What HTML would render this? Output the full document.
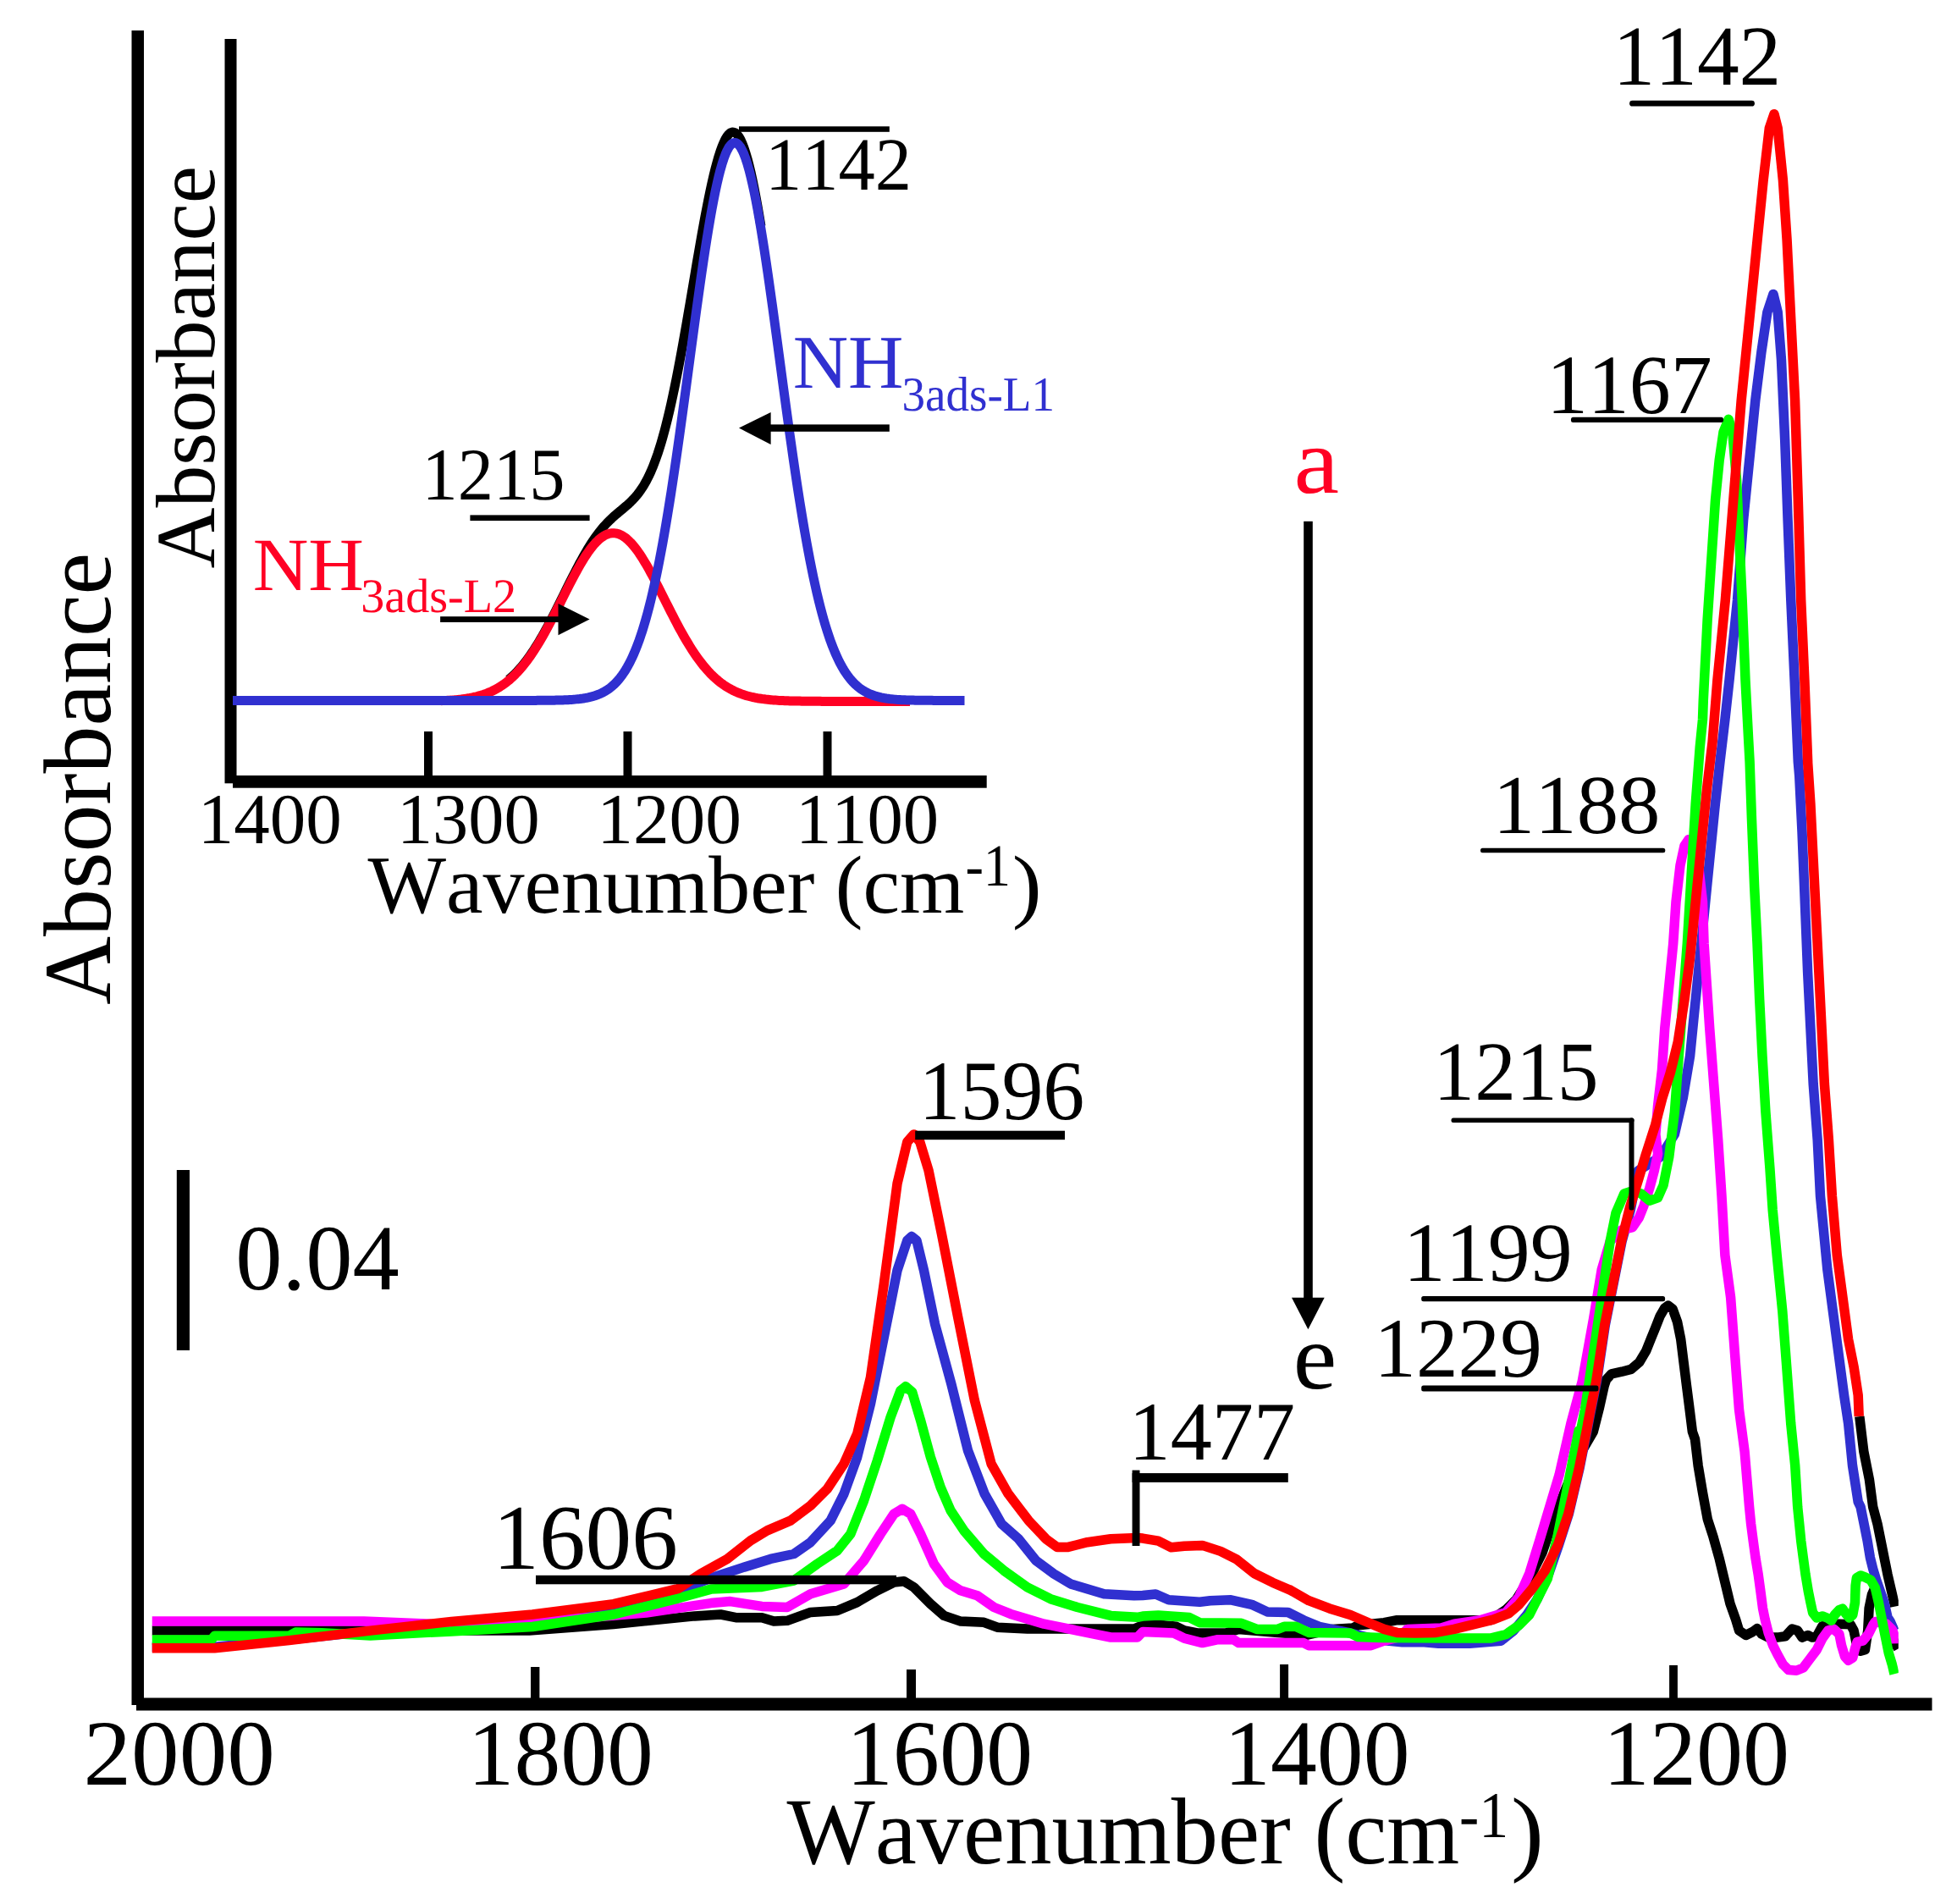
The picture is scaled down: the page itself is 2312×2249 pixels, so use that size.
<!DOCTYPE html>
<html lang="en"><head><meta charset="utf-8"><title>FTIR spectra</title>
<style>
html,body{margin:0;padding:0;background:#fff;}
body{width:2312px;height:2249px;overflow:hidden;}
svg{display:block;font-family:"Liberation Serif","Times New Roman",serif;font-kerning:none;font-variant-ligatures:none;text-rendering:geometricPrecision;}
</style></head><body>
<svg width="2312" height="2249" viewBox="0 0 2312 2249">
<rect x="0" y="0" width="2312" height="2249" fill="#ffffff"/>
<defs><clipPath id="cc"><rect x="179.5" y="0" width="2063.3" height="2005"/></clipPath></defs>
<g clip-path="url(#cc)">
<path d="M179.5,1926.1 L429.8,1926.1 L625.3,1926.1 L724.9,1918.5 L820.8,1908.9 L851.4,1907.0 L870.6,1910.8 L900.1,1910.8 L914.2,1915.1 L930.0,1914.3 L957.6,1904.4 L989.1,1902.5 L1012.7,1892.6 L1036.4,1878.8 L1056.1,1869.0 L1067.9,1867.8 L1079.7,1874.9 L1099.4,1894.6 L1115.2,1908.4 L1134.9,1915.1 L1162.4,1916.3 L1178.2,1922.2 L1213.7,1924.1 L1272.8,1924.1 L1339.7,1924.1 L1350.0,1919.8 L1359.2,1918.3 L1389.9,1921.3 L1399.1,1925.9 L1414.4,1929.0 L1448.1,1929.0 L1463.4,1924.4 L1521.7,1929.6 L1540.1,1932.1 L1573.8,1924.4 L1598.3,1922.9 L1604.5,1919.8 L1635.1,1916.7 L1650.5,1913.7 L1760.8,1913.7 L1779.2,1901.4 L1791.5,1889.1 L1806.8,1864.6 L1822.1,1834.0 L1834.4,1797.2 L1846.7,1766.5 L1865.1,1720.5 L1882.3,1691.2 L1889.2,1663.9 L1895.3,1636.6 L1897.6,1629.7 L1903.8,1622.9 L1916.1,1620.2 L1927.0,1617.4 L1936.6,1609.2 L1944.7,1595.6 L1950.2,1581.9 L1955.7,1568.3 L1961.1,1554.6 L1966.6,1545.1 L1970.7,1542.1 L1976.2,1546.4 L1981.6,1561.5 L1985.7,1581.9 L1989.1,1609.2 L1992.5,1636.6 L1996.0,1663.9 L1999.4,1691.2 L2002.5,1700.0 L2006.2,1731.5 L2011.5,1763.0 L2017.3,1794.5 L2024.1,1815.6 L2031.4,1841.8 L2037.7,1868.1 L2044.0,1894.3 L2050.6,1912.9 L2054.6,1926.1 L2062.6,1931.5 L2070.6,1927.5 L2075.9,1923.5 L2081.2,1930.1 L2089.2,1934.1 L2099.8,1934.1 L2109.1,1932.8 L2117.1,1924.1 L2123.7,1926.1 L2129.0,1934.1 L2135.7,1931.5 L2141.0,1934.1 L2146.3,1932.8 L2152.9,1920.8 L2159.6,1918.8 L2172.9,1918.2 L2186.1,1918.8 L2190.1,1926.1 L2192.8,1939.4 L2198.1,1950.1 L2203.4,1948.7 L2206.7,1926.1 L2208.1,1899.6 L2211.4,1883.6 L2216.7,1871.7 L2223.3,1886.3 L2230.0,1912.9 L2236.6,1936.8 L2242.6,1947.4" fill="none" stroke="#000000" stroke-width="11.5" stroke-linejoin="round" stroke-linecap="butt"/>
<path d="M2196.8,1673.1 L2201.8,1714.4 L2208.4,1747.5 L2212.7,1780.0 L2218.0,1799.9 L2222.0,1819.9 L2226.0,1839.8 L2230.0,1859.7 L2234.6,1879.6 L2238.0,1894.3 L2238.6,1897.6" fill="none" stroke="#000000" stroke-width="11.5" stroke-linejoin="round" stroke-linecap="butt"/>
<path d="M179.5,1945.3 L253.5,1945.3 L341.6,1936.9 L437.5,1926.9 L533.3,1917.7 L629.1,1910.0 L724.9,1897.4 L801.6,1879.4 L839.9,1864.0 L878.2,1851.4 L878.8,1851.2 L910.3,1841.4 L937.9,1835.5 L957.6,1821.7 L981.2,1796.1 L997.0,1764.6 L1012.7,1721.2 L1028.5,1658.2 L1044.3,1579.4 L1060.0,1500.6 L1071.8,1465.2 L1077.0,1460.4 L1082.9,1465.2 L1091.5,1500.6 L1104.5,1563.7 L1123.8,1634.6 L1143.5,1713.4 L1163.2,1764.6 L1183.3,1800.0 L1203.4,1817.8 L1223.9,1843.4 L1245.2,1859.1 L1264.9,1870.9 L1304.3,1882.8 L1339.7,1884.7 L1350.0,1884.5 L1365.3,1883.0 L1380.7,1889.8 L1417.4,1892.2 L1429.7,1890.7 L1454.2,1889.8 L1478.8,1895.3 L1497.2,1903.9 L1521.7,1904.5 L1540.1,1913.7 L1558.5,1921.3 L1570.7,1923.8 L1595.3,1929.0 L1625.9,1936.7 L1656.6,1939.7 L1682.6,1939.7 L1699.5,1941.3 L1736.3,1941.3 L1773.1,1938.2 L1788.4,1925.9 L1803.8,1907.5 L1816.0,1889.1 L1829.8,1858.5 L1841.5,1824.8 L1853.4,1788.0 L1865.7,1735.8 L1874.9,1689.9 L1882.5,1650.0 L1876.4,1681.3 L1886.4,1631.7 L1896.3,1565.5 L1906.2,1515.8 L1916.1,1466.2 L1926.1,1429.8 L1935.3,1382.9 L1961.8,1366.3 L1978.4,1339.8 L1988.3,1296.8 L1996.6,1247.2 L2001.5,1197.5 L2006.5,1147.9 L2011.5,1098.2 L2016.4,1048.6 L2021.4,998.9 L2026.4,949.3 L2032.0,899.6 L2037.9,850.0 L2043.0,803.5 L2052.5,709.0 L2059.6,614.5 L2066.7,543.6 L2073.8,472.7 L2080.9,415.9 L2087.9,368.7 L2095.0,347.4 L2100.2,368.7 L2104.5,425.4 L2108.7,519.9 L2112.1,614.5 L2115.8,709.0 L2120.1,803.5 L2124.3,899.9 L2125.7,916.2 L2129.0,982.4 L2132.3,1065.1 L2135.6,1147.9 L2138.9,1214.1 L2142.2,1280.3 L2147.2,1346.5 L2150.5,1412.7 L2158.8,1499.3 L2165.4,1548.9 L2172.0,1598.6 L2178.6,1648.2 L2183.6,1681.3 L2188.5,1731.0 L2195.2,1774.0 L2198.1,1780.0 L2202.1,1799.9 L2206.1,1819.9 L2209.4,1839.8 L2212.7,1853.1 L2216.7,1866.4 L2226.0,1892.9 L2230.0,1910.2 L2233.3,1915.5 L2238.0,1926.1" fill="none" stroke="#3030d0" stroke-width="11.5" stroke-linejoin="round" stroke-linecap="butt"/>
<path d="M179.5,1915.0 L429.8,1915.0 L533.3,1919.2 L648.3,1914.6 L763.3,1905.1 L839.9,1893.6 L862.9,1891.6 L900.1,1897.4 L930.0,1898.5 L957.6,1882.8 L997.0,1870.9 L1020.6,1843.4 L1040.3,1811.9 L1056.1,1788.2 L1065.9,1782.3 L1075.8,1788.2 L1087.6,1811.9 L1103.4,1847.3 L1119.1,1869.0 L1134.9,1878.8 L1154.6,1884.7 L1174.3,1898.5 L1194.0,1906.4 L1233.4,1918.2 L1272.8,1926.1 L1312.2,1934.0 L1343.7,1934.0 L1350.0,1927.5 L1386.8,1929.0 L1399.1,1935.1 L1420.5,1940.6 L1438.9,1936.7 L1457.3,1936.7 L1463.4,1940.6 L1540.1,1940.6 L1546.2,1943.7 L1619.8,1943.7 L1635.1,1938.2 L1653.5,1933.6 L1662.7,1924.4 L1702.6,1922.9 L1717.9,1918.3 L1748.6,1913.7 L1779.2,1904.5 L1794.6,1886.1 L1806.8,1858.5 L1819.1,1818.6 L1828.3,1788.0 L1842.1,1742.0 L1855.9,1681.3 L1869.2,1631.7 L1882.4,1558.9 L1892.3,1499.3 L1902.2,1466.2 L1915.5,1453.0 L1928.7,1449.6 L1936.5,1438.0 L1941.9,1424.3 L1948.7,1403.8 L1954.2,1383.3 L1958.6,1362.9 L1955.9,1339.8 L1958.5,1306.7 L1963.5,1263.7 L1966.8,1214.1 L1971.8,1164.4 L1976.7,1114.8 L1980.0,1065.1 L1985.0,1022.1 L1990.0,998.9 L1994.9,991.7 L2001.5,998.9 L2006.5,1022.1 L2011.5,1065.1 L2013.1,1114.8 L2016.4,1164.4 L2019.7,1214.1 L2024.7,1280.3 L2029.7,1346.5 L2034.0,1412.7 L2037.9,1482.7 L2044.6,1532.4 L2049.5,1598.6 L2054.5,1664.8 L2061.1,1714.4 L2066.6,1780.0 L2068.6,1799.9 L2071.2,1819.9 L2073.9,1839.8 L2077.2,1859.7 L2079.9,1879.6 L2082.5,1899.6 L2085.2,1912.9 L2089.2,1928.8 L2094.5,1943.4 L2099.8,1954.0 L2106.4,1966.0 L2113.1,1972.6 L2122.4,1973.3 L2130.3,1970.0 L2138.3,1959.4 L2146.3,1948.7 L2152.9,1935.4 L2159.6,1926.1 L2166.2,1924.1 L2172.9,1930.1 L2175.5,1943.4 L2179.5,1956.7 L2183.5,1961.3 L2188.8,1958.0 L2191.5,1947.4 L2194.1,1939.4 L2200.8,1938.1 L2207.4,1930.1 L2212.7,1919.5 L2215.4,1915.5 L2228.7,1918.2 L2235.3,1924.8 L2238.6,1932.8 L2238.9,1941.4" fill="none" stroke="#ff00ff" stroke-width="11.5" stroke-linejoin="round" stroke-linecap="butt"/>
<path d="M179.5,1936.9 L249.7,1936.9 L253.5,1932.3 L341.6,1932.3 L349.3,1928.1 L380.0,1928.8 L437.5,1931.9 L533.3,1926.9 L629.1,1921.5 L724.9,1907.0 L801.6,1887.8 L839.9,1877.1 L900.1,1874.4 L937.9,1867.0 L965.5,1847.3 L989.1,1831.6 L1004.9,1811.9 L1020.6,1772.5 L1036.4,1725.2 L1052.1,1674.0 L1064.0,1642.4 L1069.9,1637.7 L1077.7,1644.4 L1087.6,1677.9 L1099.4,1721.2 L1111.2,1756.7 L1123.1,1784.3 L1138.8,1807.9 L1162.4,1835.5 L1186.1,1855.2 L1213.7,1874.9 L1241.2,1888.7 L1272.8,1898.5 L1312.2,1908.4 L1343.7,1910.3 L1350.0,1909.1 L1368.4,1908.1 L1405.2,1910.6 L1417.4,1916.7 L1466.5,1917.3 L1484.9,1924.4 L1509.4,1924.4 L1517.1,1921.3 L1530.9,1921.3 L1546.2,1928.4 L1595.3,1929.0 L1604.5,1933.6 L1632.1,1934.5 L1711.8,1935.1 L1760.8,1935.1 L1779.2,1930.5 L1794.6,1919.8 L1806.8,1907.5 L1819.1,1883.0 L1828.3,1864.6 L1840.5,1812.5 L1852.8,1751.2 L1865.1,1689.9 L1862.5,1714.4 L1872.5,1664.8 L1882.4,1598.6 L1892.3,1532.4 L1902.2,1466.2 L1908.9,1433.1 L1918.8,1409.9 L1928.7,1406.6 L1938.7,1409.9 L1948.6,1418.2 L1958.5,1414.9 L1965.1,1400.0 L1971.8,1366.3 L1978.4,1313.4 L1983.3,1247.2 L1988.3,1181.0 L1993.3,1114.8 L1998.2,1032.0 L2003.2,949.3 L2008.2,883.1 L2011.5,850.0 L2012.3,827.1 L2017.1,732.6 L2021.8,661.7 L2026.5,590.8 L2031.2,543.6 L2036.0,510.5 L2042.1,495.3 L2046.8,510.5 L2051.6,567.2 L2054.9,638.1 L2058.2,709.0 L2062.0,803.5 L2065.7,874.4 L2067.1,899.6 L2069.4,965.8 L2072.7,1048.6 L2076.0,1114.8 L2078.7,1181.0 L2082.0,1247.2 L2085.9,1313.4 L2090.9,1379.6 L2094.2,1429.2 L2099.2,1482.7 L2105.8,1548.9 L2110.8,1615.1 L2115.7,1681.3 L2120.7,1731.0 L2123.7,1780.0 L2125.7,1799.9 L2127.7,1819.9 L2130.3,1839.8 L2133.0,1859.7 L2136.3,1879.6 L2139.0,1892.9 L2141.6,1904.9 L2146.3,1910.9 L2152.9,1908.9 L2159.6,1911.5 L2163.6,1914.2 L2167.5,1907.5 L2172.9,1901.6 L2176.8,1900.2 L2180.8,1906.2 L2184.8,1910.9 L2188.8,1907.5 L2191.5,1892.9 L2192.1,1873.0 L2193.4,1863.7 L2198.1,1861.0 L2203.4,1863.0 L2210.1,1866.4 L2215.4,1875.7 L2219.4,1892.9 L2223.3,1912.9 L2227.3,1932.8 L2231.3,1952.7 L2235.3,1966.0 L2238.0,1977.3" fill="none" stroke="#00ff00" stroke-width="11.5" stroke-linejoin="round" stroke-linecap="butt"/>
<path d="M179.5,1946.8 L253.5,1946.8 L341.6,1937.6 L437.5,1926.1 L533.3,1915.4 L629.1,1907.0 L724.9,1894.7 L801.6,1876.3 L827.6,1859.1 L859.1,1841.4 L886.7,1819.7 L906.4,1807.9 L933.9,1796.1 L957.6,1778.4 L977.3,1758.7 L997.0,1729.1 L1012.7,1693.7 L1028.5,1626.7 L1044.3,1516.4 L1060.0,1398.2 L1071.8,1348.9 L1079.7,1339.9 L1086.8,1348.9 L1097.0,1382.4 L1112.4,1457.3 L1131.7,1555.8 L1151.4,1654.3 L1171.1,1729.1 L1191.2,1764.6 L1215.2,1796.1 L1235.7,1817.8 L1249.1,1827.6 L1260.9,1827.6 L1284.6,1821.7 L1312.2,1817.8 L1343.7,1816.6 L1350.0,1817.1 L1368.4,1820.2 L1383.7,1827.8 L1399.1,1826.3 L1420.5,1825.4 L1442.0,1832.4 L1460.4,1841.6 L1481.8,1858.5 L1503.3,1869.2 L1524.8,1878.4 L1546.2,1890.7 L1570.7,1899.9 L1595.3,1907.5 L1616.7,1916.7 L1635.1,1924.4 L1650.5,1928.4 L1671.9,1929.0 L1696.4,1928.4 L1717.9,1924.4 L1742.4,1918.3 L1763.9,1913.1 L1782.3,1906.0 L1794.6,1895.3 L1809.9,1876.9 L1825.2,1855.4 L1840.5,1824.8 L1852.8,1788.0 L1865.1,1735.8 L1874.3,1689.9 L1881.9,1650.0 L1875.8,1681.3 L1885.7,1631.7 L1895.6,1565.5 L1905.6,1515.8 L1915.5,1466.2 L1925.4,1426.5 L1936.5,1390.2 L1944.6,1362.9 L1955.6,1328.7 L1963.8,1297.3 L1973.3,1267.3 L1982.3,1230.6 L1990.0,1181.0 L1996.6,1131.3 L2003.2,1065.1 L2009.8,998.9 L2016.4,932.7 L2023.1,876.5 L2028.9,803.5 L2038.3,709.0 L2047.8,590.8 L2057.2,472.7 L2066.7,378.1 L2076.1,283.6 L2083.2,212.7 L2090.3,151.3 L2096.0,134.7 L2100.2,151.3 L2106.4,212.7 L2111.1,283.6 L2115.8,378.1 L2120.6,472.7 L2124.3,590.8 L2127.7,709.0 L2131.9,803.5 L2135.7,899.9 L2135.6,899.6 L2138.9,949.3 L2142.2,1015.5 L2145.5,1081.7 L2148.8,1147.9 L2152.1,1214.1 L2155.4,1280.3 L2160.4,1346.5 L2164.4,1412.7 L2170.3,1482.7 L2177.0,1532.4 L2183.6,1582.0 L2190.2,1615.1 L2195.2,1648.2 L2196.2,1673.1" fill="none" stroke="#ff0000" stroke-width="11.5" stroke-linejoin="round" stroke-linecap="butt"/>
</g>
<rect x="155.50" y="36.00" width="14.50" height="1978.00" fill="#000"/>
<rect x="161.00" y="2005.50" width="2121.50" height="15.00" fill="#000"/>
<rect x="627.00" y="1969.00" width="10.40" height="37.00" fill="#000"/>
<rect x="1071.00" y="1972.00" width="11.00" height="34.00" fill="#000"/>
<rect x="1512.10" y="1966.00" width="10.00" height="40.00" fill="#000"/>
<rect x="1972.10" y="1967.00" width="9.80" height="39.00" fill="#000"/>
<text transform="translate(98.51,2108.30) scale(1.0272,1)" font-size="110.22" fill="#000">2000</text>
<text transform="translate(552.61,2108.30) scale(0.9948,1)" font-size="110.22" fill="#000">1800</text>
<text transform="translate(999.65,2108.30) scale(1.0006,1)" font-size="110.22" fill="#000">1600</text>
<text transform="translate(1446.10,2108.30) scale(0.9953,1)" font-size="110.22" fill="#000">1400</text>
<text transform="translate(1893.87,2108.30) scale(0.9987,1)" font-size="110.22" fill="#000">1200</text>
<rect x="208.80" y="1382.00" width="15.20" height="213.00" fill="#000"/>
<text transform="translate(278.36,1523.35) scale(1.0020,1)" font-size="110.29" fill="#000">0.04</text>
<text transform="translate(582.23,1852.71) scale(1.0004,1)" font-size="109.33" fill="#000">1606</text>
<rect x="633.00" y="1860.80" width="426.00" height="10.50" fill="#000"/>
<text transform="translate(1085.43,1321.90) scale(0.9803,1)" font-size="99.93" fill="#000">1596</text>
<rect x="1081.20" y="1335.70" width="176.80" height="10.50" fill="#000"/>
<text transform="translate(1333.61,1724.00) scale(0.9958,1)" font-size="98.64" fill="#000">1477</text>
<rect x="1337.60" y="1740.10" width="184.20" height="10.80" fill="#000"/>
<rect x="1337.60" y="1736.60" width="8.90" height="89.40" fill="#000"/>
<text transform="translate(1905.39,99.60) scale(0.9867,1)" font-size="100.83" fill="#000">1142</text>
<path d="M1928.5,122.2 L2069.5,122.2" stroke="#000" stroke-width="6.8" stroke-linecap="round"/>
<text transform="translate(1826.93,487.71) scale(0.9841,1)" font-size="99.48" fill="#000">1167</text>
<rect x="1856.00" y="492.80" width="180.00" height="6.20" rx="2.5" ry="2.5" fill="#000"/>
<text transform="translate(1763.86,983.61) scale(0.9981,1)" font-size="98.96" fill="#000">1188</text>
<rect x="1749.00" y="1001.70" width="218.30" height="5.60" rx="2.5" ry="2.5" fill="#000"/>
<text transform="translate(1693.36,1299.41) scale(0.9823,1)" font-size="99.33" fill="#000">1215</text>
<rect x="1714.50" y="1320.60" width="216.00" height="5.50" rx="2.5" ry="2.5" fill="#000"/>
<rect x="1924.50" y="1320.60" width="6.00" height="108.90" rx="2.5" ry="2.5" fill="#000"/>
<text transform="translate(1657.86,1512.71) scale(1.0044,1)" font-size="99.48" fill="#000">1199</text>
<rect x="1679.20" y="1530.90" width="287.90" height="6.40" rx="2.5" ry="2.5" fill="#000"/>
<text transform="translate(1623.21,1625.70) scale(0.9941,1)" font-size="99.93" fill="#000">1229</text>
<rect x="1679.20" y="1636.40" width="209.20" height="7.20" rx="2.5" ry="2.5" fill="#000"/>
<text transform="translate(1528.48,582.09) scale(1.0832,1)" font-size="111.25" fill="#ff0024">a</text>
<text transform="translate(1527.86,1639.90) scale(1.0521,1)" font-size="110.21" fill="#000">e</text>
<rect x="1540.20" y="615.80" width="10.60" height="924.20" fill="#000"/>
<polygon points="1526,1532.7 1564.7,1532.7 1545.4,1570.2" fill="#000"/>
<rect x="265.50" y="46.00" width="14.00" height="879.30" fill="#000"/>
<rect x="275.00" y="916.00" width="890.70" height="14.70" fill="#000"/>
<path d="M601.0,802.7 L603.0,800.9 L605.0,799.1 L607.0,797.3 L609.0,795.3 L611.0,793.2 L613.0,791.0 L615.0,788.8 L617.0,786.4 L619.0,783.9 L621.0,781.4 L623.0,778.7 L625.0,776.0 L627.0,773.1 L629.0,770.2 L631.0,767.2 L633.0,764.0 L635.0,760.8 L637.0,757.5 L639.0,754.1 L641.0,750.7 L643.0,747.1 L645.0,743.5 L647.0,739.8 L649.0,736.0 L651.0,732.2 L653.0,728.4 L655.0,724.4 L657.0,720.5 L659.0,716.5 L661.0,712.5 L663.0,708.4 L665.0,704.4 L667.0,700.3 L669.0,696.3 L671.0,692.3 L673.0,688.2 L675.0,684.2 L677.0,680.3 L679.0,676.4 L681.0,672.5 L683.0,668.7 L685.0,664.9 L687.0,661.3 L689.0,657.7 L691.0,654.2 L693.0,650.8 L695.0,647.4 L697.0,644.2 L699.0,641.1 L701.0,638.1 L703.0,635.2 L705.0,632.4 L707.0,629.7 L709.0,627.2 L711.0,624.7 L713.0,622.3 L715.0,620.1 L717.0,617.9 L719.0,615.9 L721.0,613.9 L723.0,612.0 L725.0,610.2 L727.0,608.4 L729.0,606.7 L731.0,605.0 L733.0,603.4 L735.0,601.7 L737.0,600.0 L739.0,598.3 L741.0,596.6 L743.0,594.8 L745.0,592.9 L747.0,590.9 L749.0,588.8 L751.0,586.6 L753.0,584.2 L755.0,581.6 L757.0,578.8 L759.0,575.8 L761.0,572.6 L763.0,569.1 L765.0,565.3 L767.0,561.3 L769.0,556.9 L771.0,552.2 L773.0,547.1 L775.0,541.7 L777.0,536.0 L779.0,529.8 L781.0,523.3 L783.0,516.4 L785.0,509.1 L787.0,501.4 L789.0,493.4 L791.0,484.9 L793.0,476.1 L795.0,466.9 L797.0,457.4 L799.0,447.5 L801.0,437.3 L803.0,426.8 L805.0,416.0 L807.0,405.0 L809.0,393.8 L811.0,382.4 L813.0,370.8 L815.0,359.1 L817.0,347.4 L819.0,335.6 L821.0,323.8 L823.0,312.0 L825.0,300.4 L827.0,288.9 L829.0,277.5 L831.0,266.4 L833.0,255.6 L835.0,245.2 L837.0,235.1 L839.0,225.4 L841.0,216.2 L843.0,207.5 L845.0,199.3 L847.0,191.8 L849.0,184.9 L851.0,178.6 L853.0,173.1 L855.0,168.3 L857.0,164.2 L859.0,161.0 L861.0,158.5 L863.0,156.9 L865.0,156.1 L867.0,156.2 L869.0,157.1 L871.0,158.9 L873.0,161.6 L875.0,165.1 L877.0,169.5 L879.0,174.7 L881.0,180.7 L883.0,187.5 L885.0,195.1 L887.0,203.4 L889.0,212.4 L891.0,222.2 L893.0,232.5 L895.0,243.5 L897.0,255.1 L899.0,267.2" fill="none" stroke="#000000" stroke-width="11" stroke-linejoin="round" stroke-linecap="butt"/>
<path d="M521.0,827.7 L523.0,827.6 L525.0,827.5 L527.0,827.4 L529.0,827.3 L531.0,827.2 L533.0,827.1 L535.0,826.9 L537.0,826.8 L539.0,826.6 L541.0,826.4 L543.0,826.2 L545.0,826.0 L547.0,825.7 L549.0,825.4 L551.0,825.1 L553.0,824.8 L555.0,824.5 L557.0,824.1 L559.0,823.7 L561.0,823.2 L563.0,822.8 L565.0,822.2 L567.0,821.7 L569.0,821.1 L571.0,820.5 L573.0,819.8 L575.0,819.0 L577.0,818.2 L579.0,817.4 L581.0,816.5 L583.0,815.5 L585.0,814.5 L587.0,813.4 L589.0,812.2 L591.0,811.0 L593.0,809.7 L595.0,808.3 L597.0,806.8 L599.0,805.3 L601.0,803.7 L603.0,802.0 L605.0,800.2 L607.0,798.3 L609.0,796.3 L611.0,794.2 L613.0,792.0 L615.0,789.8 L617.0,787.4 L619.0,785.0 L621.0,782.4 L623.0,779.8 L625.0,777.0 L627.0,774.2 L629.0,771.2 L631.0,768.2 L633.0,765.1 L635.0,761.9 L637.0,758.6 L639.0,755.2 L641.0,751.7 L643.0,748.2 L645.0,744.6 L647.0,740.9 L649.0,737.2 L651.0,733.4 L653.0,729.6 L655.0,725.7 L657.0,721.8 L659.0,717.8 L661.0,713.9 L663.0,709.9 L665.0,705.9 L667.0,701.9 L669.0,697.9 L671.0,694.0 L673.0,690.1 L675.0,686.2 L677.0,682.4 L679.0,678.6 L681.0,675.0 L683.0,671.4 L685.0,667.8 L687.0,664.4 L689.0,661.1 L691.0,657.9 L693.0,654.9 L695.0,652.0 L697.0,649.2 L699.0,646.6 L701.0,644.1 L703.0,641.9 L705.0,639.8 L707.0,637.8 L709.0,636.1 L711.0,634.6 L713.0,633.3 L715.0,632.1 L717.0,631.2 L719.0,630.5 L721.0,630.0 L723.0,629.8 L725.0,629.7 L727.0,629.9 L729.0,630.2 L731.0,630.8 L733.0,631.7 L735.0,632.7 L737.0,633.9 L739.0,635.3 L741.0,637.0 L743.0,638.8 L745.0,640.8 L747.0,643.0 L749.0,645.3 L751.0,647.9 L753.0,650.6 L755.0,653.4 L757.0,656.4 L759.0,659.5 L761.0,662.8 L763.0,666.1 L765.0,669.6 L767.0,673.1 L769.0,676.8 L771.0,680.5 L773.0,684.3 L775.0,688.2 L777.0,692.0 L779.0,696.0 L781.0,699.9 L783.0,703.9 L785.0,707.9 L787.0,711.9 L789.0,715.8 L791.0,719.8 L793.0,723.7 L795.0,727.6 L797.0,731.5 L799.0,735.3 L801.0,739.1 L803.0,742.8 L805.0,746.4 L807.0,750.0 L809.0,753.5 L811.0,756.9 L813.0,760.2 L815.0,763.5 L817.0,766.7 L819.0,769.7 L821.0,772.7 L823.0,775.6 L825.0,778.4 L827.0,781.1 L829.0,783.7 L831.0,786.2 L833.0,788.6 L835.0,790.9 L837.0,793.1 L839.0,795.3 L841.0,797.3 L843.0,799.2 L845.0,801.1 L847.0,802.8 L849.0,804.5 L851.0,806.1 L853.0,807.6 L855.0,809.0 L857.0,810.3 L859.0,811.6 L861.0,812.8 L863.0,813.9 L865.0,815.0 L867.0,816.0 L869.0,816.9 L871.0,817.8 L873.0,818.6 L875.0,819.4 L877.0,820.1 L879.0,820.8 L881.0,821.4 L883.0,822.0 L885.0,822.5 L887.0,823.0 L889.0,823.5 L891.0,823.9 L893.0,824.3 L895.0,824.7 L897.0,825.0 L899.0,825.3 L901.0,825.6 L903.0,825.8 L905.0,826.1 L907.0,826.3 L909.0,826.5 L911.0,826.7 L913.0,826.9 L915.0,827.0 L917.0,827.1 L919.0,827.3 L921.0,827.4 L923.0,827.5 L925.0,827.6 L927.0,827.7 L929.0,827.7 L931.0,827.8 L933.0,827.9 L935.0,827.9 L937.0,828.0 L939.0,828.0 L941.0,828.1 L943.0,828.1 L945.0,828.1 L947.0,828.2 L949.0,828.2 L951.0,828.2 L953.0,828.2 L955.0,828.3 L957.0,828.3 L959.0,828.3 L961.0,828.3 L963.0,828.3 L965.0,828.3 L967.0,828.3 L969.0,828.3 L971.0,828.4 L973.0,828.4 L975.0,828.4 L977.0,828.4 L979.0,828.4 L981.0,828.4 L983.0,828.4 L985.0,828.4 L987.0,828.4 L989.0,828.4 L991.0,828.4 L993.0,828.4 L995.0,828.4 L997.0,828.4 L999.0,828.4 L1001.0,828.4 L1003.0,828.4 L1005.0,828.4 L1007.0,828.4 L1009.0,828.4 L1011.0,828.4 L1013.0,828.4 L1015.0,828.4 L1017.0,828.4 L1019.0,828.4 L1021.0,828.4 L1023.0,828.4 L1025.0,828.4 L1027.0,828.4 L1029.0,828.4 L1031.0,828.4 L1033.0,828.4 L1035.0,828.4 L1037.0,828.4 L1039.0,828.4 L1041.0,828.4 L1043.0,828.4 L1045.0,828.4 L1047.0,828.4 L1049.0,828.4 L1051.0,828.4 L1053.0,828.4 L1055.0,828.4 L1057.0,828.4 L1059.0,828.4 L1061.0,828.4 L1063.0,828.4 L1065.0,828.4 L1067.0,828.4 L1069.0,828.4 L1071.0,828.4 L1073.0,828.4 L1075.0,828.4" fill="none" stroke="#ff0024" stroke-width="11" stroke-linejoin="round" stroke-linecap="butt"/>
<path d="M275.0,827.4 L277.0,827.4 L279.0,827.4 L281.0,827.4 L283.0,827.4 L285.0,827.4 L287.0,827.4 L289.0,827.4 L291.0,827.4 L293.0,827.4 L295.0,827.4 L297.0,827.4 L299.0,827.4 L301.0,827.4 L303.0,827.4 L305.0,827.4 L307.0,827.4 L309.0,827.4 L311.0,827.4 L313.0,827.4 L315.0,827.4 L317.0,827.4 L319.0,827.4 L321.0,827.4 L323.0,827.4 L325.0,827.4 L327.0,827.4 L329.0,827.4 L331.0,827.4 L333.0,827.4 L335.0,827.4 L337.0,827.4 L339.0,827.4 L341.0,827.4 L343.0,827.4 L345.0,827.4 L347.0,827.4 L349.0,827.4 L351.0,827.4 L353.0,827.4 L355.0,827.4 L357.0,827.4 L359.0,827.4 L361.0,827.4 L363.0,827.4 L365.0,827.4 L367.0,827.4 L369.0,827.4 L371.0,827.4 L373.0,827.4 L375.0,827.4 L377.0,827.4 L379.0,827.4 L381.0,827.4 L383.0,827.4 L385.0,827.4 L387.0,827.4 L389.0,827.4 L391.0,827.4 L393.0,827.4 L395.0,827.4 L397.0,827.4 L399.0,827.4 L401.0,827.4 L403.0,827.4 L405.0,827.4 L407.0,827.4 L409.0,827.4 L411.0,827.4 L413.0,827.4 L415.0,827.4 L417.0,827.4 L419.0,827.4 L421.0,827.4 L423.0,827.4 L425.0,827.4 L427.0,827.4 L429.0,827.4 L431.0,827.4 L433.0,827.4 L435.0,827.4 L437.0,827.4 L439.0,827.4 L441.0,827.4 L443.0,827.4 L445.0,827.4 L447.0,827.4 L449.0,827.4 L451.0,827.4 L453.0,827.4 L455.0,827.4 L457.0,827.4 L459.0,827.4 L461.0,827.4 L463.0,827.4 L465.0,827.4 L467.0,827.4 L469.0,827.4 L471.0,827.4 L473.0,827.4 L475.0,827.4 L477.0,827.4 L479.0,827.4 L481.0,827.4 L483.0,827.4 L485.0,827.4 L487.0,827.4 L489.0,827.4 L491.0,827.4 L493.0,827.4 L495.0,827.4 L497.0,827.4 L499.0,827.4 L501.0,827.4 L503.0,827.4 L505.0,827.4 L507.0,827.4 L509.0,827.4 L511.0,827.4 L513.0,827.4 L515.0,827.4 L517.0,827.4 L519.0,827.4 L521.0,827.4 L523.0,827.4 L525.0,827.4 L527.0,827.4 L529.0,827.4 L531.0,827.4 L533.0,827.4 L535.0,827.4 L537.0,827.4 L539.0,827.4 L541.0,827.4 L543.0,827.4 L545.0,827.4 L547.0,827.4 L549.0,827.4 L551.0,827.4 L553.0,827.4 L555.0,827.4 L557.0,827.4 L559.0,827.4 L561.0,827.4 L563.0,827.4 L565.0,827.4 L567.0,827.4 L569.0,827.4 L571.0,827.4 L573.0,827.4 L575.0,827.4 L577.0,827.4 L579.0,827.4 L581.0,827.4 L583.0,827.4 L585.0,827.4 L587.0,827.4 L589.0,827.4 L591.0,827.4 L593.0,827.4 L595.0,827.4 L597.0,827.4 L599.0,827.4 L601.0,827.4 L603.0,827.4 L605.0,827.4 L607.0,827.4 L609.0,827.4 L611.0,827.4 L613.0,827.4 L615.0,827.4 L617.0,827.4 L619.0,827.4 L621.0,827.4 L623.0,827.4 L625.0,827.4 L627.0,827.4 L629.0,827.4 L631.0,827.4 L633.0,827.4 L635.0,827.3 L637.0,827.3 L639.0,827.3 L641.0,827.3 L643.0,827.3 L645.0,827.3 L647.0,827.3 L649.0,827.2 L651.0,827.2 L653.0,827.2 L655.0,827.2 L657.0,827.1 L659.0,827.1 L661.0,827.0 L663.0,827.0 L665.0,826.9 L667.0,826.8 L669.0,826.7 L671.0,826.7 L673.0,826.5 L675.0,826.4 L677.0,826.3 L679.0,826.1 L681.0,825.9 L683.0,825.7 L685.0,825.5 L687.0,825.2 L689.0,825.0 L691.0,824.6 L693.0,824.3 L695.0,823.9 L697.0,823.4 L699.0,822.9 L701.0,822.4 L703.0,821.7 L705.0,821.0 L707.0,820.3 L709.0,819.4 L711.0,818.5 L713.0,817.5 L715.0,816.4 L717.0,815.1 L719.0,813.8 L721.0,812.3 L723.0,810.7 L725.0,808.9 L727.0,807.0 L729.0,804.9 L731.0,802.6 L733.0,800.1 L735.0,797.4 L737.0,794.5 L739.0,791.4 L741.0,788.0 L743.0,784.4 L745.0,780.5 L747.0,776.3 L749.0,771.9 L751.0,767.1 L753.0,762.0 L755.0,756.6 L757.0,750.8 L759.0,744.7 L761.0,738.2 L763.0,731.4 L765.0,724.1 L767.0,716.5 L769.0,708.5 L771.0,700.1 L773.0,691.2 L775.0,682.0 L777.0,672.3 L779.0,662.2 L781.0,651.8 L783.0,640.9 L785.0,629.6 L787.0,618.0 L789.0,605.9 L791.0,593.5 L793.0,580.8 L795.0,567.7 L797.0,554.3 L799.0,540.6 L801.0,526.6 L803.0,512.4 L805.0,498.0 L807.0,483.4 L809.0,468.7 L811.0,453.9 L813.0,439.0 L815.0,424.0 L817.0,409.1 L819.0,394.2 L821.0,379.4 L823.0,364.8 L825.0,350.4 L827.0,336.2 L829.0,322.2 L831.0,308.6 L833.0,295.4 L835.0,282.6 L837.0,270.3 L839.0,258.5 L841.0,247.3 L843.0,236.7 L845.0,226.7 L847.0,217.4 L849.0,208.8 L851.0,200.9 L853.0,193.9 L855.0,187.7 L857.0,182.3 L859.0,177.8 L861.0,174.1 L863.0,171.4 L865.0,169.5 L867.0,168.6 L869.0,168.6 L871.0,169.5 L873.0,171.4 L875.0,174.1 L877.0,177.8 L879.0,182.3 L881.0,187.7 L883.0,193.9 L885.0,200.9 L887.0,208.8 L889.0,217.4 L891.0,226.7 L893.0,236.7 L895.0,247.3 L897.0,258.5 L899.0,270.3 L901.0,282.6 L903.0,295.4 L905.0,308.6 L907.0,322.2 L909.0,336.2 L911.0,350.4 L913.0,364.8 L915.0,379.4 L917.0,394.2 L919.0,409.1 L921.0,424.0 L923.0,439.0 L925.0,453.9 L927.0,468.7 L929.0,483.4 L931.0,498.0 L933.0,512.4 L935.0,526.6 L937.0,540.6 L939.0,554.3 L941.0,567.7 L943.0,580.8 L945.0,593.5 L947.0,605.9 L949.0,618.0 L951.0,629.6 L953.0,640.9 L955.0,651.8 L957.0,662.2 L959.0,672.3 L961.0,682.0 L963.0,691.2 L965.0,700.1 L967.0,708.5 L969.0,716.5 L971.0,724.1 L973.0,731.4 L975.0,738.2 L977.0,744.7 L979.0,750.8 L981.0,756.6 L983.0,762.0 L985.0,767.1 L987.0,771.9 L989.0,776.3 L991.0,780.5 L993.0,784.4 L995.0,788.0 L997.0,791.4 L999.0,794.5 L1001.0,797.4 L1003.0,800.1 L1005.0,802.6 L1007.0,804.9 L1009.0,807.0 L1011.0,808.9 L1013.0,810.7 L1015.0,812.3 L1017.0,813.8 L1019.0,815.1 L1021.0,816.4 L1023.0,817.5 L1025.0,818.5 L1027.0,819.4 L1029.0,820.3 L1031.0,821.0 L1033.0,821.7 L1035.0,822.4 L1037.0,822.9 L1039.0,823.4 L1041.0,823.9 L1043.0,824.3 L1045.0,824.6 L1047.0,825.0 L1049.0,825.2 L1051.0,825.5 L1053.0,825.7 L1055.0,825.9 L1057.0,826.1 L1059.0,826.3 L1061.0,826.4 L1063.0,826.5 L1065.0,826.7 L1067.0,826.7 L1069.0,826.8 L1071.0,826.9 L1073.0,827.0 L1075.0,827.0 L1077.0,827.1 L1079.0,827.1 L1081.0,827.2 L1083.0,827.2 L1085.0,827.2 L1087.0,827.2 L1089.0,827.3 L1091.0,827.3 L1093.0,827.3 L1095.0,827.3 L1097.0,827.3 L1099.0,827.3 L1101.0,827.3 L1103.0,827.4 L1105.0,827.4 L1107.0,827.4 L1109.0,827.4 L1111.0,827.4 L1113.0,827.4 L1115.0,827.4 L1117.0,827.4 L1119.0,827.4 L1121.0,827.4 L1123.0,827.4 L1125.0,827.4 L1127.0,827.4 L1129.0,827.4 L1131.0,827.4 L1133.0,827.4 L1135.0,827.4 L1137.0,827.4 L1139.0,827.4 L1139.5,827.4" fill="none" stroke="#3030d0" stroke-width="11" stroke-linejoin="round" stroke-linecap="butt"/>
<rect x="501.00" y="864.00" width="10.00" height="53.00" fill="#000"/>
<rect x="736.50" y="864.00" width="10.00" height="53.00" fill="#000"/>
<rect x="972.50" y="864.00" width="10.00" height="53.00" fill="#000"/>
<text transform="translate(233.86,996.15) scale(1.0032,1)" font-size="84.74" fill="#000">1400</text>
<text transform="translate(468.92,996.15) scale(0.9950,1)" font-size="84.74" fill="#000">1300</text>
<text transform="translate(705.23,996.15) scale(1.0076,1)" font-size="84.74" fill="#000">1200</text>
<text transform="translate(939.89,996.15) scale(0.9988,1)" font-size="84.74" fill="#000">1100</text>
<text transform="translate(903.93,223.50) scale(0.9748,1)" font-size="88.75" fill="#000">1142</text>
<rect x="873.00" y="149.30" width="177.80" height="6.50" fill="#000"/>
<text transform="translate(498.62,590.32) scale(0.9618,1)" font-size="87.73" fill="#000">1215</text>
<rect x="555.40" y="608.40" width="141.20" height="6.70" fill="#000"/>
<rect x="910.00" y="501.40" width="140.80" height="8.40" fill="#000"/>
<polygon points="873,505.6 910.6,487.1 910.6,525" fill="#000"/>
<rect x="520.10" y="728.20" width="140.40" height="6.80" fill="#000"/>
<polygon points="696.6,731.6 659.5,713.1 659.5,750.2" fill="#000"/>
<text transform="translate(936.68,458.20) scale(1.0103,1)" font-size="89.62" fill="#3030d0">NH</text>
<text transform="translate(1065.38,485.02) scale(0.9575,1)" font-size="57.59" fill="#3030d0">3ads-L1</text>
<text transform="translate(298.67,697.40) scale(1.0195,1)" font-size="89.16" fill="#ff0024">NH</text>
<text transform="translate(426.13,722.63) scale(0.9849,1)" font-size="57.02" fill="#ff0024">3ads-L2</text>
<text transform="translate(130.07,1186.72) rotate(-90) scale(0.9853,1)" font-size="113.48" fill="#000">Absorbance</text>
<text transform="translate(252.71,671.40) rotate(-90) scale(1.0010,1)" font-size="99.43" fill="#000">Absorbance</text>
<text transform="translate(929.40,2200.89) scale(0.9865,1)" font-size="112.07" fill="#000">Wavenumber (cm</text>
<text transform="translate(1724.08,2169.90) scale(0.9050,1)" font-size="77.12" fill="#000">-1</text>
<text transform="translate(1784.90,2200.89) scale(1.0431,1)" font-size="112.07" fill="#000">)</text>
<text transform="translate(434.50,1077.85) scale(1.0084,1)" font-size="97.19" fill="#000">Wavenumber (cm</text>
<text transform="translate(1140.38,1045.70) scale(0.9173,1)" font-size="70.30" fill="#000">-1</text>
<text transform="translate(1195.79,1077.85) scale(1.0789,1)" font-size="97.19" fill="#000">)</text>
</svg>
</body></html>
